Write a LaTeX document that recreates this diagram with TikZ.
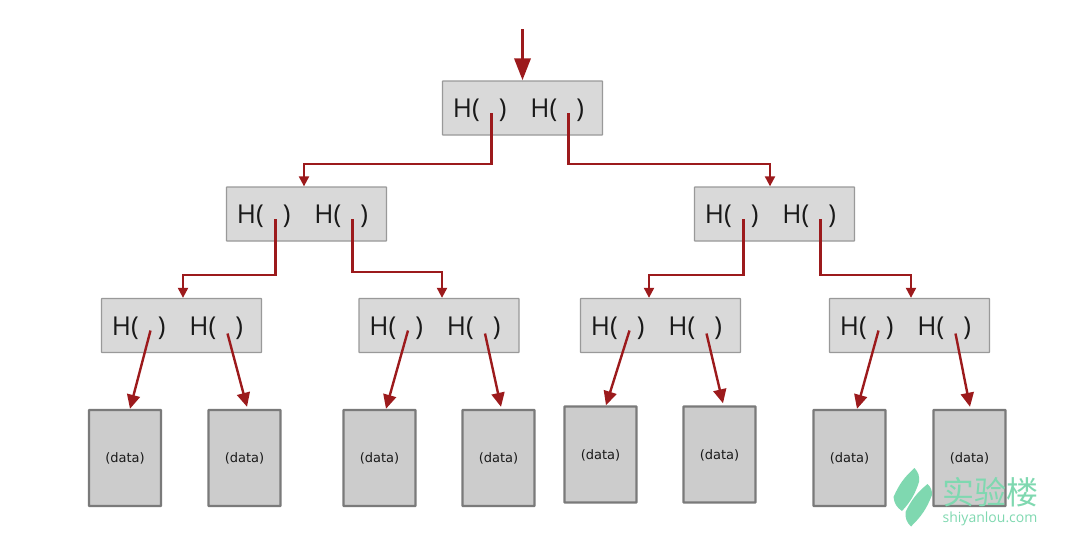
\documentclass[tikz,border=0pt]{standalone}
\usepackage{fontspec}
\setmainfont{Open Sans}
\newfontfamily\cjk{Noto Sans CJK SC}
\newfontfamily\datafont{DejaVu Sans}
\usetikzlibrary{arrows.meta}
\definecolor{ptrred}{HTML}{9C1A1C}
\definecolor{logogreen}{HTML}{7FD8B0}
\tikzset{
  hashbox/.style={draw=black!40,fill=black!15,line width=1.3pt,rounded corners=0.5pt,
    minimum width=160pt,minimum height=54pt,inner sep=0pt,text=black!90,
    text height=19pt,text depth=0pt,
    font=\fontsize{26}{26}\selectfont},
  databox/.style={draw=black!52,fill=black!20,line width=2.4pt,rounded corners=0.5pt,
    minimum width=72pt,minimum height=96pt,inner sep=0pt,text=black!90,
    text height=9pt,text depth=0pt,
    font=\datafont\fontsize{13}{14}\selectfont},
  ptr/.style={ptrred,line width=2.1pt,-{Triangle[length=10pt,width=10pt]}},
  leafptr/.style={ptrred,line width=2.4pt,-{Triangle[length=14pt,width=13pt]}},
  rootptr/.style={ptrred,line width=3.4pt,-{Triangle[length=22pt,width=16pt]}},
  logo/.style={fill=logogreen,draw=none}
}
\newcommand{\hashtext}{\hspace{-8pt}H(\hspace{19pt})\hspace{24pt}H(\hspace{19pt})}
\begin{document}
\begin{tikzpicture}[x=1pt,y=-1pt]
    \useasboundingbox (0,0) rectangle (1080,541);
    % hash nodes
    \foreach \name/\x/\y in {root/522.5/108,a/306.5/214,b/774.5/214,
        aa/181.5/325.5,ab/439/325.5,ba/660.5/325.5,bb/909.5/325.5}{
      \node[hashbox] (\name) at (\x,\y) {\hashtext};
      \coordinate (\name l) at (\x-31,\y+5);
      \coordinate (\name r) at (\x+46,\y+5);
    }
    % data blocks
    \foreach \name/\x/\y in {d1/125/458,d2/244.5/458,d3/379.5/458,d4/498.5/458,
        d5/600.5/454.5,d6/719.5/454.5,d7/849.5/458,d8/969.5/458}{
      \node[databox] (\name) at (\x,\y) {(data)};
    }
    \coordinate (top) at (522.5,29);
    \draw[rootptr] (top) -- (root.north);
    % tree pointers
    \draw[ptr] (rootl) -- ++(0,51) -| ([xshift=-2.5pt]a.north);
    \draw[ptr] (rootr) -- ++(0,51) -| ([xshift=-4.5pt]b.north);
    \draw[ptr] (al) -- ++(0,56) -| ([xshift=1.5pt]aa.north);
    \draw[ptr] (ar) -- ++(0,53) -| ([xshift=3pt]ab.north);
    \draw[ptr] (bl) -- ++(0,56) -| ([xshift=-11.5pt]ba.north);
    \draw[ptr] (br) -- ++(0,56) -| ([xshift=1.5pt]bb.north);
    % leaf pointers
    \draw[leafptr] (aal) -- ([xshift=5pt]d1.north);
    \draw[leafptr] ([yshift=-3pt]aar) -- ([xshift=2.5pt,yshift=2pt]d2.north);
    \draw[leafptr] (abl) -- ([xshift=6.5pt]d3.north);
    \draw[leafptr] ([yshift=-3pt]abr) -- ([xshift=2.5pt,yshift=2pt]d4.north);
    \draw[leafptr] (bal) -- ([xshift=5.5pt]d5.north);
    \draw[leafptr] ([yshift=-3pt]bar) -- ([xshift=3.5pt,yshift=2pt]d6.north);
    \draw[leafptr] (bbl) -- ([xshift=7.5pt]d7.north);
    \draw[leafptr] ([yshift=-3pt]bbr) -- ([xshift=0.5pt,yshift=2pt]d8.north);
    % watermark
    \fill[logo] (914.5,468) to[bend left=25] (919,482) to[bend left=12] (902,511)
      to[bend left=25] (893.5,497) to[bend left=12] cycle;
    \fill[logo] (927.5,484) to[bend left=25] (932,495) to[bend left=12] (911,526.5)
      to[bend left=25] (905.5,512) to[bend left=12] cycle;
    \node[text=logogreen,inner sep=0pt,font=\cjk\fontsize{32}{32}\selectfont] (logotext) at (990,492.5) {实验楼};
    \node[text=logogreen,inner sep=0pt,font=\fontsize{14}{14}\selectfont] (logourl) at (990,519) {shiyanlou.com};
\end{tikzpicture}
\end{document}
